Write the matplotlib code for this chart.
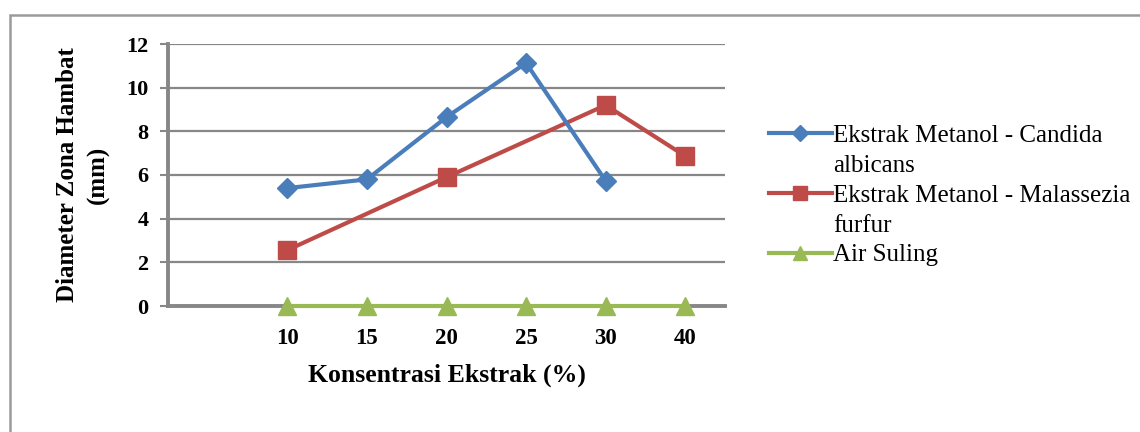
import matplotlib.pyplot as plt
from matplotlib.lines import Line2D
from matplotlib.patches import Rectangle

plt.rcParams['font.family'] = ['Liberation Serif', 'DejaVu Serif']

categories = ['', '10', '15', '20', '25', '30', '40']
candida_x = ['10', '15', '20', '25', '30']
candida = [5.4, 5.8, 8.65, 11.13, 5.73]
malassezia_x = ['10', '20', '30', '40']
malassezia = [2.56, 5.9, 9.2, 6.87]
air_x = ['10', '15', '20', '25', '30', '40']
air = [0, 0, 0, 0, 0, 0]

pos = {c: i for i, c in enumerate(categories)}
grey = '#878787'

fig = plt.figure(figsize=(11.4, 4.32), dpi=100)
# outer chart border (runs off the right and bottom edges)
fig.patches.append(Rectangle((10 / 1140, -0.1), 1.2, 1.1 - 15 / 432,
                             transform=fig.transFigure, fill=False,
                             edgecolor='#9a9a9a', linewidth=1.8))

ax = fig.add_axes([168 / 1140, 1 - 306 / 432, (725 - 168) / 1140, (306 - 44) / 432])

l1, = ax.plot([pos[c] for c in candida_x], candida, color='#4A7EBB', lw=3,
              marker='D', ms=10, zorder=4)
l2, = ax.plot([pos[c] for c in malassezia_x], malassezia, color='#BE4B48', lw=3,
              marker='s', ms=13, zorder=3)
l3, = ax.plot([pos[c] for c in air_x], air, color='#98B954', lw=3,
              marker='^', ms=13, zorder=5, clip_on=False)

ax.set_xlim(-0.5, len(categories) - 0.5)
ax.set_ylim(0, 12)
ax.set_yticks(range(0, 13, 2))
ax.set_xticks(range(len(categories)))
ax.set_xticklabels(categories, fontsize=16.5, fontweight='bold')
for lab in ax.get_yticklabels():
    lab.set_fontsize(16)
    lab.set_fontweight('bold')
ax.tick_params(axis='x', length=0, pad=16)
ax.tick_params(axis='y', length=6, width=1.5, color=grey, pad=8)
ax.grid(axis='y', color=grey, lw=1.6)
ax.set_axisbelow(True)
for s in ['top', 'right']:
    ax.spines[s].set_visible(False)
for s in ['left', 'bottom']:
    ax.spines[s].set_color(grey)
    ax.spines[s].set_linewidth(2.8)

ax.set_xlabel('Konsentrasi Ekstrak (%)', fontsize=18.5, fontweight='bold', labelpad=10)
ax.set_ylabel('Diameter Zona Hambat\n(mm)', fontsize=18, fontweight='bold',
              labelpad=12, linespacing=1.4)

# wrapped legend: continuation lines get an empty handle so the key sits on the first line
blank = Line2D([], [], linestyle='none')
handles = [l1, blank, l2, blank, l3]
labels = ['Ekstrak Metanol - Candida', 'albicans',
          'Ekstrak Metanol - Malassezia', 'furfur', 'Air Suling']
fig.legend(handles, labels, loc='upper left', bbox_to_anchor=(759 / 1140, 1 - 114 / 432),
           frameon=False, fontsize=18, handlelength=2.5, handletextpad=0.05,
           labelspacing=0.3, borderaxespad=0, markerscale=0.8)

fig.savefig('out.png', dpi=100)
